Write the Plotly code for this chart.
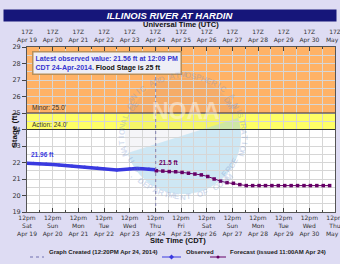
import numpy as np
import pandas as pd
import plotly.graph_objects as go

# ---------------- data ----------------
obs_times = pd.date_range("2014-04-19 12:00", "2014-04-24 12:00", freq="6h")
obs_stage = [21.96, 21.95, 21.93, 21.91, 21.88, 21.85, 21.82, 21.79, 21.76, 21.73,
             21.70, 21.66, 21.62, 21.57, 21.55, 21.58, 21.62, 21.63, 21.62, 21.60, 21.56]

fc_times = pd.date_range("2014-04-24 13:00", periods=28, freq="6h")
fc_stage = [21.50, 21.48, 21.45, 21.44, 21.40, 21.35, 21.30, 21.25, 21.15, 21.00,
            20.87, 20.78, 20.74, 20.66] + [20.60] * 14

created_time = "2014-04-24 12:20"
flood_minor = 25.0
flood_action = 24.0
y_min, y_max = 19, 29

tick_days = pd.date_range("2014-04-19 12:00", "2014-05-01 12:00", freq="D")
tick_weekday = ["Sat", "Sun", "Mon", "Tue", "Wed", "Thu", "Fri",
                "Sat", "Sun", "Mon", "Tue", "Wed", "Thu"]
tick_date = ["Apr 19", "Apr 20", "Apr 21", "Apr 22", "Apr 23", "Apr 24", "Apr 25",
             "Apr 26", "Apr 27", "Apr 28", "Apr 29", "Apr 30", "May 1"]
top_hour = "17Z"

# ---------------- geometry helpers ----------------
W, H = 340, 264
ML, MR, MT, MB = 27, 5, 47, 52
PW, PH = W - ML - MR, H - MT - MB


def px(x):
    return (x - ML) / PW


def py(y):
    return (H - MB - y) / PH


SANS = "DejaVu Sans"
ARIAL = "Liberation Sans"
OBS_C = "#3a3ae0"
FC_C = "#660066"

fig = go.Figure()

fig.add_trace(go.Scatter(
    x=obs_times, y=obs_stage, mode="lines+markers",
    line=dict(color=OBS_C, width=3.5), marker=dict(size=3, color=OBS_C),
    showlegend=False, hoverinfo="skip"))
fig.add_trace(go.Scatter(
    x=fc_times, y=fc_stage, mode="lines+markers",
    line=dict(color=FC_C, width=1), marker=dict(size=3.5, color=FC_C, symbol="square"),
    showlegend=False, hoverinfo="skip"))
fig.add_trace(go.Scatter(
    x=[created_time, created_time], y=[y_min, y_max], mode="lines",
    line=dict(color="#8080b0", width=1, dash="dot"), xaxis="x2",
    showlegend=False, hoverinfo="skip"))

shapes = []
shapes.append(dict(type="rect", xref="paper", yref="y", x0=0, x1=1, y0=flood_minor, y1=y_max,
                   fillcolor="#ffb266", line_width=0, layer="below"))
shapes.append(dict(type="rect", xref="paper", yref="y", x0=0, x1=1, y0=flood_action, y1=flood_minor,
                   fillcolor="#ffff66", line_width=0, layer="below"))

# NOAA watermark approximation
cx, cy = 183, 136
t = np.linspace(0, 2 * np.pi, 90)


def poly(pts):
    return "M " + " L ".join(f"{px(a):.4f},{py(b):.4f}" for a, b in pts) + " Z"


r_in = 58
circle_in = [(cx + r_in * np.cos(a), cy + r_in * np.sin(a)) for a in t]
shapes.append(dict(type="path", xref="paper", yref="paper", path=poly(circle_in),
                   fillcolor="rgba(90,80,140,0.06)", line_width=0, layer="below"))
x1l, y1l, x2l, y2l = 130, 152, 243, 116
lb = []
for a in np.linspace(0, 2 * np.pi, 180):
    X, Y = cx + r_in * np.cos(a), cy + r_in * np.sin(a)
    yl = y1l + (y2l - y1l) * (X - x1l) / (x2l - x1l)
    if Y >= yl:
        lb.append((X, Y))
lb.sort(key=lambda p: np.arctan2(p[1] - cy, p[0] - cx))
shapes.append(dict(type="path", xref="paper", yref="paper", path=poly(lb),
                   fillcolor="rgba(160,215,240,0.45)", line_width=0, layer="below"))

for lv in (flood_minor, flood_action):
    shapes.append(dict(type="line", xref="paper", yref="y", x0=0, x1=1, y0=lv, y1=lv,
                       line=dict(color="#333333", width=1)))

# legend symbols
LY = 257
ly = py(LY)
shapes.append(dict(type="line", xref="paper", yref="paper", x0=px(30), x1=px(44), y0=ly, y1=ly,
                   line=dict(color="#7070b0", width=1, dash="dot")))
shapes.append(dict(type="line", xref="paper", yref="paper", x0=px(162), x1=px(181), y0=ly, y1=ly,
                   line=dict(color=OBS_C, width=1)))
shapes.append(dict(type="path", xref="paper", yref="paper",
                   path=poly([(171.5, LY - 2.5), (174, LY), (171.5, LY + 2.5), (169, LY)]),
                   fillcolor=OBS_C, line_width=0))
shapes.append(dict(type="line", xref="paper", yref="paper", x0=px(210), x1=px(226), y0=ly, y1=ly,
                   line=dict(color=FC_C, width=1)))
shapes.append(dict(type="circle", xref="paper", yref="paper", x0=px(216.5), x1=px(219.5),
                   y0=py(LY + 1.5), y1=py(LY - 1.5), fillcolor=FC_C, line_width=0))

ann = []
ann.append(dict(text="<b><i>ILLINOIS RIVER AT HARDIN</i></b>", x=px(170), y=py(8.5), xref="paper", yref="paper",
                showarrow=False, width=332, height=11, bgcolor="#16167a", borderpad=0,
                font=dict(family=ARIAL, size=9.5, color="white")))
ann.append(dict(text="<b>Universal Time (UTC)</b>", x=px(181), y=py(18), xref="paper", yref="paper",
                showarrow=False, font=dict(family=ARIAL, size=7.5, color="#111")))
ann.append(dict(text="<b>Site Time (CDT)</b>", x=px(178), y=py(247), xref="paper", yref="paper",
                showarrow=False, font=dict(family=ARIAL, size=7.5, color="#111")))
ann.append(dict(text="<b>Stage (ft)</b>", x=px(7), y=py(130), xref="paper", yref="paper", textangle=-90,
                showarrow=False, font=dict(family=ARIAL, size=8, color="#111")))
ann.append(dict(text="Minor: 25.0'", x=px(30), y=flood_minor, xref="paper", yref="y", xanchor="left",
                yanchor="bottom", showarrow=False, font=dict(family=ARIAL, size=6.5, color="#333")))
ann.append(dict(text="Action: 24.0'", x=px(30), y=flood_action, xref="paper", yref="y", xanchor="left",
                yanchor="bottom", showarrow=False, font=dict(family=ARIAL, size=6.5, color="#333")))
ann.append(dict(text=f"<b>{obs_stage[0]:.2f} ft</b>", x=obs_times[0], y=obs_stage[0], xref="x", yref="y",
                xanchor="left", yanchor="bottom", xshift=2, yshift=3, showarrow=False,
                font=dict(family=ARIAL, size=6.5, color=OBS_C)))
ann.append(dict(text=f"<b>{fc_stage[0]:.1f} ft</b>", x=fc_times[0], y=fc_stage[0], xref="x", yref="y",
                xanchor="left", yanchor="bottom", xshift=1, yshift=3, showarrow=False,
                font=dict(family=ARIAL, size=6.5, color=FC_C)))
ann.append(dict(
    text=("<b><span style='color:#3535d0'>Latest observed value: 21.56 ft at 12:09 PM</span></b><br>"
          "<b><span style='color:#3535d0'>CDT 24-Apr-2014.</span> Flood Stage is 25 ft</b>"),
    x=px(32), y=py(51), xref="paper", yref="paper", xanchor="left", yanchor="top", align="left",
    showarrow=False, bgcolor="#eeeef6", bordercolor="#b8905a", borderwidth=1.5, borderpad=2,
    font=dict(family=ARIAL, size=7, color="#111")))
ann.append(dict(text="<b>NOAA</b>", x=px(186), y=py(96), xref="paper", yref="paper", showarrow=False,
                font=dict(family=ARIAL, size=23, color="rgba(255,245,230,0.5)")))
top_txt = "NATIONAL OCEANIC AND ATMOSPHERIC ADMINISTRATION"
r_t = 68
angs = np.linspace(np.radians(195), np.radians(-15), len(top_txt))
for ch, a in zip(top_txt, angs):
    if ch == " ":
        continue
    ann.append(dict(text="<b>" + ch + "</b>", x=px(cx + r_t * np.cos(a)), y=py(cy - r_t * np.sin(a)),
                    xref="paper", yref="paper", showarrow=False, textangle=90 - np.degrees(a),
                    font=dict(family=ARIAL, size=8, color="rgba(110,140,200,0.3)")))
bot_txt = "U.S. DEPARTMENT OF COMMERCE"
angs = np.linspace(np.radians(208), np.radians(332), len(bot_txt))
for ch, a in zip(bot_txt, angs):
    if ch == " ":
        continue
    ann.append(dict(text="<b>" + ch + "</b>", x=px(cx + r_t * np.cos(a)), y=py(cy - r_t * np.sin(a)),
                    xref="paper", yref="paper", showarrow=False, textangle=270 - np.degrees(a),
                    font=dict(family=ARIAL, size=8, color="rgba(110,140,200,0.3)")))
ann.append(dict(text="<b>Graph Created (12:20PM Apr 24, 2014)</b>", x=px(47), y=ly, xref="paper", yref="paper",
                xanchor="left", showarrow=False, font=dict(family=ARIAL, size=6, color="#222")))
ann.append(dict(text="<b>Observed</b>", x=px(184), y=ly, xref="paper", yref="paper",
                xanchor="left", showarrow=False, font=dict(family=ARIAL, size=6, color="#222")))
ann.append(dict(text="<b>Forecast (issued 11:00AM Apr 24)</b>", x=px(228), y=ly, xref="paper", yref="paper",
                xanchor="left", showarrow=False, font=dict(family=ARIAL, size=6, color="#222")))

x_range = [tick_days[0], tick_days[-1]]
common_x = dict(type="date", range=x_range, tickmode="array", tickvals=tick_days, automargin=False,
                showgrid=True, gridcolor="#d6d6d6", gridwidth=1,
                ticks="inside", ticklen=4, tickcolor="#444", showline=True, linecolor="#555", linewidth=1,
                tickfont=dict(family=SANS, size=6, color="#333"), ticklabeloverflow="allow",
                minor=dict(tick0="2014-04-19 00:00", dtick=86400000, ticks="inside", ticklen=2,
                           tickcolor="#444", showgrid=True, gridcolor="#d6d6d6"))

fig.update_layout(
    template="none",
    width=W, height=H, margin=dict(l=ML, r=MR, t=MT, b=MB, autoexpand=False),
    paper_bgcolor="#dedcf3", plot_bgcolor="white",
    showlegend=False,
    xaxis=dict(common_x, ticktext=[f"12pm<br>{w}<br>{d}" for w, d in zip(tick_weekday, tick_date)],
               side="bottom", zeroline=False),
    xaxis2=dict(common_x, ticktext=[f"{top_hour}<br>{d}" for d in tick_date], overlaying="x",
                side="top", matches="x", anchor="y", showgrid=False, zeroline=False, ticklabelstandoff=2,
                minor=dict(tick0="2014-04-19 00:00", dtick=86400000, ticks="inside", ticklen=2,
                           tickcolor="#444", showgrid=False)),
    yaxis=dict(range=[y_min, y_max], dtick=1, ticks="outside", ticklen=4, tickcolor="#444", automargin=False,
               showline=True, linecolor="#555", linewidth=1, mirror=True,
               showgrid=True, gridcolor="#d6d6d6", zeroline=False,
               tickfont=dict(family=SANS, size=6.5, color="#333"),
               minor=dict(dtick=0.5, showgrid=True, gridcolor="#d6d6d6")),
    shapes=shapes, annotations=ann,
)

fig.write_html("out.html")
